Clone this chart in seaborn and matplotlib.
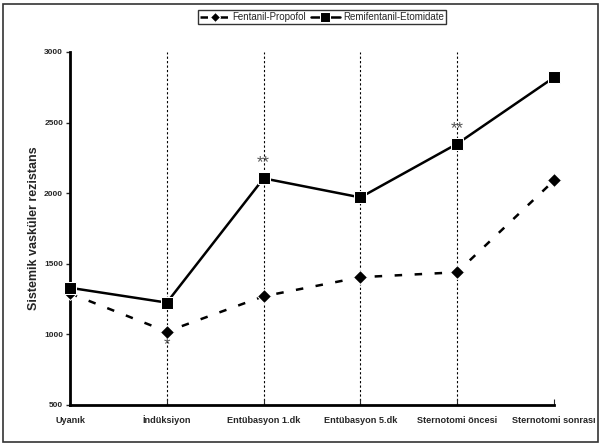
import matplotlib
matplotlib.use("Agg")
import matplotlib.pyplot as plt
import seaborn as sns
import pandas as pd
from matplotlib.patches import Rectangle

categories = ["Uyanık", "İndüksiyon", "Entübasyon 1.dk", "Entübasyon 5.dk",
              "Sternotomi öncesi", "Sternotomi sonrası"]
fentanil = [1290, 1020, 1270, 1405, 1440, 2090]
remi = [1330, 1225, 2105, 1970, 2350, 2820]
yticks = [500, 1000, 1500, 2000, 2500, 3000]
annotations = [(1, 1020, "*", "below"), (2, 2105, "**", "above"), (4, 2350, "**", "above")]

sns.set_theme(style="white")
plt.rcParams['font.family'] = ['Liberation Sans', 'DejaVu Sans']

df = pd.DataFrame({"x": list(range(len(categories))) * 2,
                   "y": fentanil + remi,
                   "series": ["Fentanil-Propofol"] * len(categories) + ["Remifentanil-Etomidate"] * len(categories)})

fig = plt.figure(figsize=(6.02, 4.48), dpi=100)
ax = fig.add_axes([0.1163, 0.096, 0.804, 0.788])

for i in range(1, len(categories) - 1):
    ax.axvline(i, color="black", lw=0.8, ls=(0, (2, 2)), zorder=0)

sns.lineplot(data=df[df.series == "Fentanil-Propofol"], x="x", y="y", ax=ax,
             color="black", lw=1.8, marker="D", markersize=7, label="Fentanil-Propofol",
             linestyle=(0, (3, 5)), clip_on=False, zorder=3)
sns.lineplot(data=df[df.series == "Remifentanil-Etomidate"], x="x", y="y", ax=ax,
             color="black", lw=1.8, marker="s", markersize=8.5, label="Remifentanil-Etomidate",
             clip_on=False, zorder=4)

for x, y, t, pos in annotations:
    if pos == "below":
        ax.text(x, y - 40, t, ha="center", va="top", fontsize=12, color="#555555")
    else:
        ax.text(x, y + 55, t, ha="center", va="bottom", fontsize=12, color="#555555")

ax.set_xlim(0, len(categories) - 1)
ax.set_ylim(500, 3000)
ax.set_yticks(yticks)
ax.set_yticklabels([str(v) for v in yticks], fontsize=6, fontweight="bold")
ax.set_xticks(range(len(categories)))
ax.set_xticklabels(categories, fontsize=6.6, fontweight="bold", va="baseline")
ax.set_xlabel("")
ax.set_ylabel("Sistemik vasküler rezistans", fontsize=9, fontweight="bold", labelpad=3)
ax.tick_params(axis="y", direction="out", length=3, width=1, pad=2, left=True)
ax.tick_params(axis="x", direction="in", length=4, width=0.8, pad=13, bottom=True)
for s in ["top", "right"]:
    ax.spines[s].set_visible(False)
for s in ["left", "bottom"]:
    ax.spines[s].set_linewidth(2)
    ax.spines[s].set_color("black")

leg = ax.legend(loc="center", bbox_to_anchor=(322 / 602, 1 - 17 / 448), bbox_transform=fig.transFigure,
                ncol=2, fontsize=7, frameon=True, fancybox=False, handlelength=3.0,
                columnspacing=0.5, handletextpad=0.3, borderpad=0.25, borderaxespad=0,
                markerscale=0.8)
leg.get_frame().set_edgecolor("black")
leg.get_frame().set_linewidth(1)

fig.patches.append(Rectangle((3 / 602, 1 - 442 / 448), 595 / 602, 438 / 448, transform=fig.transFigure,
                             fill=False, edgecolor="#333333", lw=1.2))

fig.savefig("out.png", dpi=100)
